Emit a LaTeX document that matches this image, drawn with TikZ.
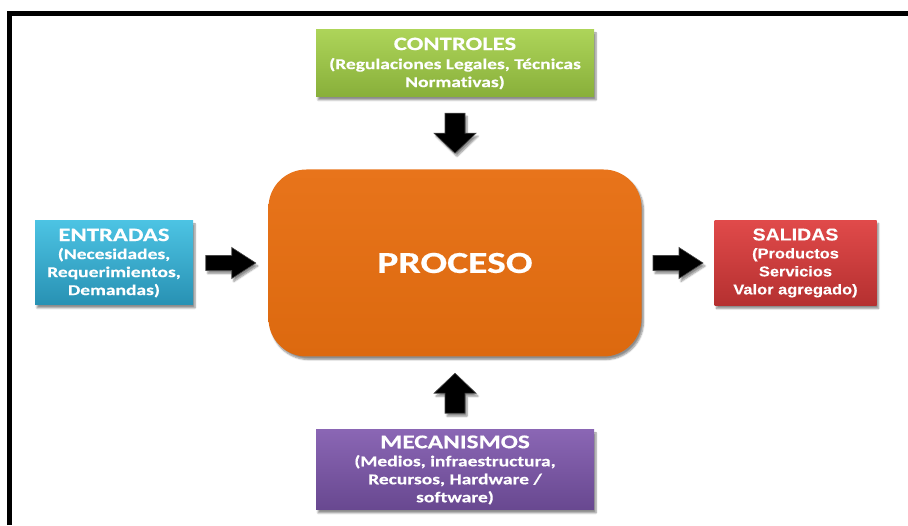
\documentclass[tikz,border=0pt]{standalone}
\usepackage{fontspec}
\usetikzlibrary{calc,shadows.blur}
\newfontfamily\calfont[FakeStretch=1.3, Ligatures={NoCommon}, BoldFeatures={FakeBold=0.4}]{Carlito}
\newfontfamily\arlfont[FakeStretch=1.15, BoldFeatures={FakeBold=0.3}]{Liberation Sans}

\definecolor{grnTop}{HTML}{ADD459}
\definecolor{grnBot}{HTML}{88AF3A}
\definecolor{bluTop}{HTML}{4CC3E3}
\definecolor{bluBot}{HTML}{2891B3}
\definecolor{orgTop}{HTML}{E8741B}
\definecolor{orgBot}{HTML}{DC690F}
\definecolor{redTop}{HTML}{E04A4A}
\definecolor{redBot}{HTML}{B53030}
\definecolor{purTop}{HTML}{8A66B4}
\definecolor{purBot}{HTML}{684890}

\tikzset{
  softshadow/.style={blur shadow={shadow xshift=2pt, shadow yshift=-3pt,
      shadow blur steps=6, shadow opacity=45}},
  box/.style={inner sep=0pt, align=center, text=white, softshadow,
      font=\calfont\bfseries\fontsize{15}{18}\selectfont},
  vblock/.pic={
    \fill[black, softshadow] (-20,-10) -- (0,-10) -- (0,-21) -- (20,0)
      -- (0,21) -- (0,10) -- (-20,10) -- cycle;
    \draw[gray!55!black, line width=0.6pt, line join=miter]
      (-20,-10) -- (0,-10) -- (0,-21) -- (20,0) -- (0,21) -- (0,10) -- (-20,10) -- cycle;
  },
  hblock/.pic={
    \fill[black, softshadow] (-25,-7.5) -- (1,-7.5) -- (1,-15.5) -- (25,0)
      -- (1,15.5) -- (1,7.5) -- (-25,7.5) -- cycle;
    \draw[gray!55!black, line width=0.6pt, line join=miter]
      (-25,-7.5) -- (1,-7.5) -- (1,-15.5) -- (25,0) -- (1,15.5) -- (1,7.5) -- (-25,7.5) -- cycle;
  },
}

\begin{document}
\begin{tikzpicture}[x=1pt,y=1pt]
\useasboundingbox (0,0) rectangle (908,525);

% frame along the left and top edges
\draw[line width=5pt, line join=miter] (9.5,0) -- (9.5,511.5) -- (908,511.5);

% central process block
\node[box, rounded corners=38pt, top color=orgTop, bottom color=orgBot,
      minimum width=373pt, minimum height=187pt,
      font=\calfont\bfseries\fontsize{30.5}{34}\selectfont]
  (proc) at (455,262) {PROCESO};

\node[box, top color=grnTop, bottom color=grnBot,
      minimum width=278pt, minimum height=67pt]
  (ctrl) at (455,461.5)
  {{\fontsize{19}{21}\selectfont CONTROLES}\\[1pt]
   (Regulaciones Legales, Técnicas\\Normativas)};

\node[box, top color=bluTop, bottom color=bluBot,
      minimum width=158pt, minimum height=84pt]
  (entr) at (114,262)
  {{\fontsize{19}{21}\selectfont ENTRADAS}\\
   (Necesidades,\\Requerimientos,\\Demandas)};

\node[box, top color=redTop, bottom color=redBot,
      minimum width=162pt, minimum height=85pt,
      font=\arlfont\bfseries\fontsize{14.3}{18}\selectfont]
  (sal) at (795.5,262)
  {{\fontsize{17}{20}\selectfont SALIDAS}\\
   (Productos\\Servicios\\Valor agregado)};

\node[box, top color=purTop, bottom color=purBot,
      minimum width=278pt, minimum height=80pt]
  (mec) at (455,55)
  {{\fontsize{19.5}{21}\selectfont MECANISMOS}\\
   (Medios, infraestructura,\\Recursos, Hardware /\\software)};

% block arrows into and out of the process
\pic[rotate=-90] at ($(ctrl.south)!0.5!(proc.north)$) {vblock};
\pic[rotate=90]  at ($(mec.north)!0.5!(proc.south)$) {vblock};
\pic at ($(entr.east)!0.5!(proc.west)$) {hblock};
\pic at ($(proc.east)!0.5!(sal.west)$) {hblock};
\end{tikzpicture}
\end{document}
